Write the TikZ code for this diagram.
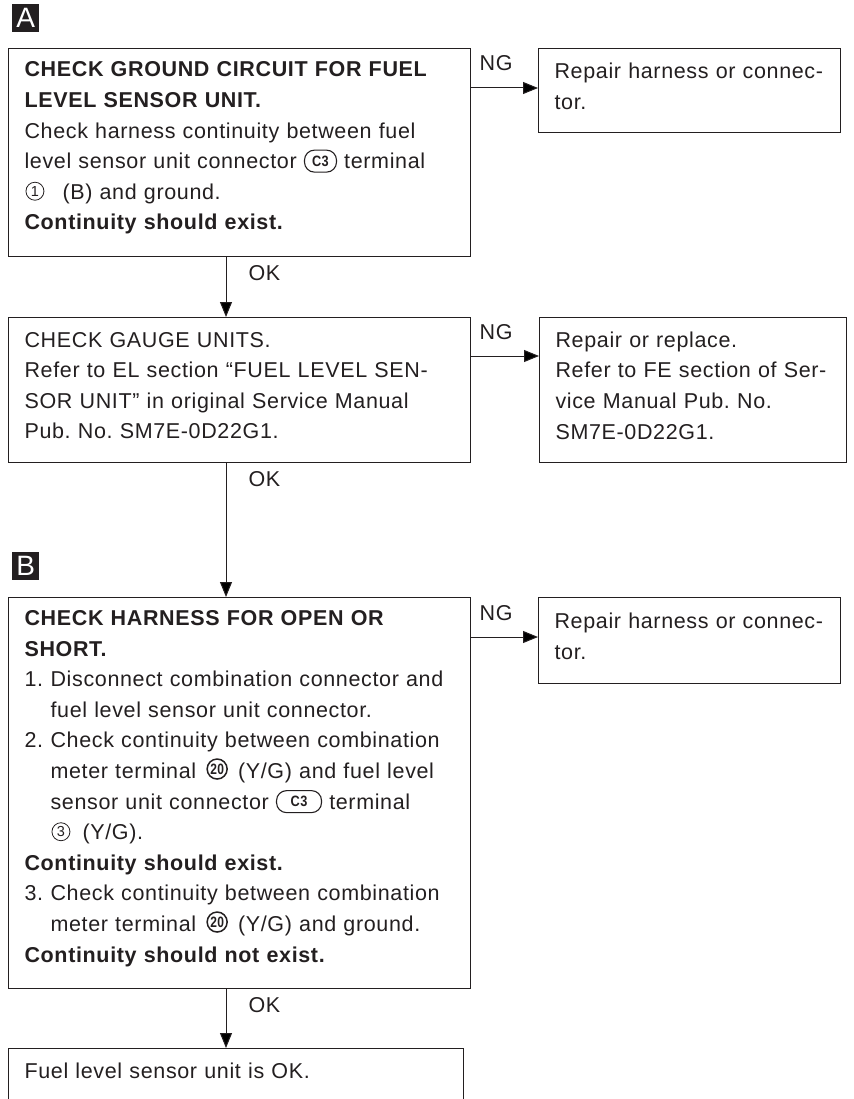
\documentclass[tikz,border=0pt]{standalone}
\usepackage{graphicx}
\usepackage{fontspec}
\setmainfont[LetterSpace=3]{Liberation Sans}
\usetikzlibrary{arrows.meta,positioning}
\definecolor{inkgray}{HTML}{231F20}
\frenchspacing

% inline symbols used inside the step texts
\tikzset{inlinesym/.style={anchor=center, text width=, minimum width=0pt,
    minimum height=0pt, align=center, draw=inkgray, outer sep=0pt}}
\newcommand{\connbox}[2][32pt]{\tikz[baseline={([yshift=3.5pt]cb.south)}]
  \node[inlinesym, line width=1.1pt, rounded corners=10pt, inner sep=0pt,
    minimum width=#1, minimum height=22pt,
    font=\fontsize{15}{15}\selectfont\bfseries] (cb) {\scalebox{0.85}[1]{#2}};}
\newcommand{\termnum}[2][0.8pt]{\tikz[baseline={([yshift=1pt]tn.south)}]
  \node[inlinesym, circle, line width=#1, inner sep=0pt, minimum size=18pt,
    font=\fontsize{14.5}{14.5}\selectfont] (tn) {#2};}
\newcommand{\termbold}[1]{\hspace{3pt}\tikz[baseline={([yshift=0.5pt]tb.south)}]
  \node[inlinesym, circle, line width=1.5pt, inner sep=0pt, minimum size=20pt,
    font=\fontsize{15}{15}\selectfont\bfseries] (tb) {\scalebox{0.8}[1]{#1}};\hspace{3pt}}
\newcommand{\boxtail}{\endgraf\vspace{9pt}}

\begin{document}
\begin{tikzpicture}[
  x=1pt, y=-1pt,
  font=\fontsize{21.5}{30.6}\selectfont,
  stepbox/.style={
    draw=inkgray,
    line width=1.1pt,
    text=inkgray,
    anchor=north west,
    align=left,
    inner xsep=16pt,
    inner ysep=0pt,
    execute at end node=\boxtail
  },
  marker/.style={
    fill=inkgray,
    text=white,
    anchor=north west,
    minimum width=27pt,
    minimum height=28pt,
    inner sep=0pt,
    font=\fontsize{28}{28}\selectfont
  },
  flow/.style={draw=inkgray, line width=1pt, -{Triangle[length=15pt,width=12pt]}},
  oklabel/.style={pos=0, anchor=base west, xshift=22pt, yshift=-23pt, inner sep=0pt, text=inkgray},
  nglabel/.style={pos=0, anchor=base west, xshift=8pt, yshift=17pt, inner sep=0pt, text=inkgray}
]
  \useasboundingbox (0,0) rectangle (853,1099);

  % --- A: ground circuit ---
  \node[marker] (markA) at (12,4) {A};

  \node[stepbox, text width=430pt, minimum height=208pt] (chkgnd) at (8,48) {
    \textbf{CHECK GROUND CIRCUIT FOR FUEL}\\
    \textbf{LEVEL SENSOR UNIT.}\\
    Check harness continuity between fuel\\
    level sensor unit connector \connbox{C3} terminal\\
    \hspace*{1pt}\termnum{1}\hspace{11pt} (B) and ground.\\
    \textbf{Continuity should exist.}
  };

  \node[stepbox, text width=270pt, minimum height=84pt] (repair1) at (538,48) {
    Repair harness or connec-\\
    tor.
  };

  % --- gauge units ---
  \node[stepbox, text width=430pt, minimum height=145pt] (chkgauge) at (8,317) {
    CHECK GAUGE UNITS.\\
    Refer to EL section “FUEL LEVEL SEN-\\
    SOR UNIT” in original Service Manual\\
    Pub. No. SM7E-0D22G1.
  };

  \node[stepbox, text width=275pt, minimum height=145pt] (replace) at (539,317) {
    Repair or replace.\\
    Refer to FE section of Ser-\\
    vice Manual Pub. No.\\
    SM7E-0D22G1.
  };

  % --- B: harness open / short ---
  \node[marker] (markB) at (12,552) {B};

  \node[stepbox, text width=430pt, minimum height=391pt] (chkharn) at (8,597) {
    \textbf{CHECK HARNESS FOR OPEN OR}\\
    \textbf{SHORT.}\\
    \makebox[26pt][l]{1.}Disconnect combination connector and\\
    \hspace*{26pt}fuel level sensor unit connector.\\
    \makebox[26pt][l]{2.}Check continuity between combination\\
    \hspace*{26pt}meter terminal \termbold{20} (Y/G) and fuel level\\
    \hspace*{26pt}sensor unit connector \connbox[45pt]{C3} terminal\\
    \hspace*{27pt}\termnum{3}\hspace{5pt} (Y/G).\\
    \textbf{Continuity should exist.}\\
    \makebox[26pt][l]{3.}Check continuity between combination\\
    \hspace*{26pt}meter terminal \termbold{20} (Y/G) and ground.\\
    \textbf{Continuity should not exist.}
  };

  \node[stepbox, text width=270pt, minimum height=86pt] (repair2) at (538,597) {
    Repair harness or connec-\\
    tor.
  };

  \node[stepbox, text width=423pt, minimum height=53pt] (sensorok) at (8,1048) {
    Fuel level sensor unit is OK.
  };

  % OK path
  \draw[flow] ([xshift=218pt]chkgnd.south west) -- node[oklabel] {OK} ([xshift=218pt]chkgauge.north west);
  \draw[flow] ([xshift=218pt]chkgauge.south west) -- node[oklabel] {OK} ([xshift=218pt]chkharn.north west);
  \draw[flow] ([xshift=218pt]chkharn.south west) -- node[oklabel] {OK} ([xshift=218pt]sensorok.north west);

  % NG path
  \draw[flow] ([yshift=-40pt]chkgnd.north east) -- node[nglabel] {NG} ([yshift=-40pt]repair1.north west);
  \draw[flow] ([yshift=-39pt]chkgauge.north east) -- node[nglabel] {NG} ([yshift=-39pt]replace.north west);
  \draw[flow] ([yshift=-40pt]chkharn.north east) -- node[nglabel] {NG} ([yshift=-40pt]repair2.north west);

\end{tikzpicture}
\end{document}
